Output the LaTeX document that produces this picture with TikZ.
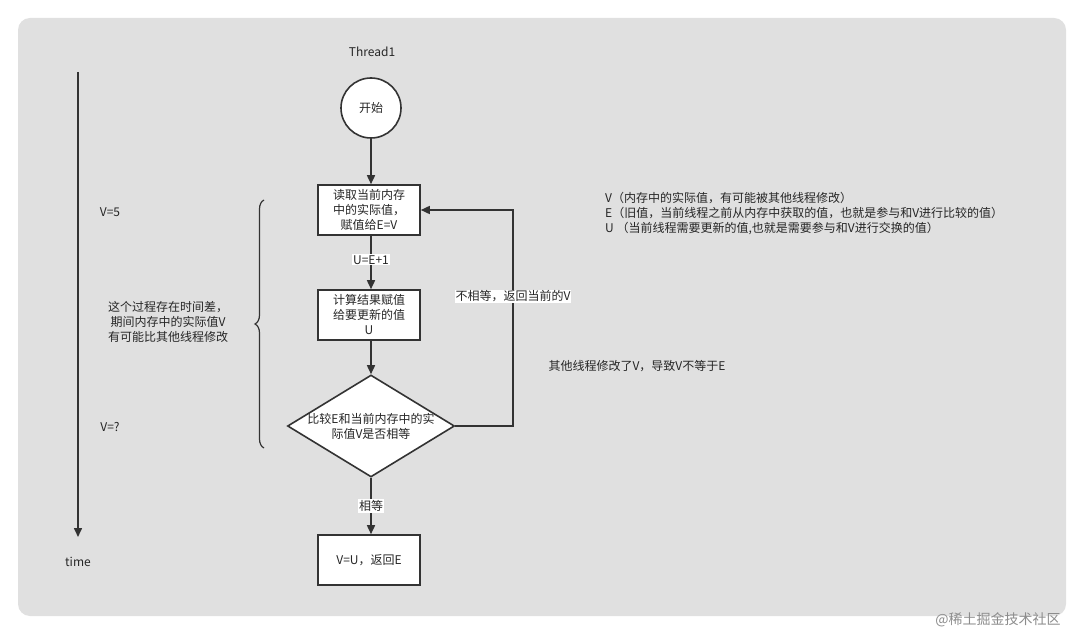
\documentclass[tikz,border=0pt]{standalone}
\usepackage{fontspec}
\setmainfont{Noto Sans CJK SC}
\usetikzlibrary{shapes.geometric,arrows.meta,decorations.pathreplacing}
\begin{document}
\begin{tikzpicture}[x=1pt,y=-1pt,
  every node/.style={font=\fontsize{12}{15}\selectfont, text=black!85},
  proc/.style={draw=black!80, line width=1.6pt, fill=white, minimum width=102pt, minimum height=50pt, inner sep=1pt, align=center},
  conn/.style={draw=black!80, line width=1.6pt, -{Triangle[length=9pt,width=8pt]}},
  lbl/.style={fill=white, inner sep=1pt},
  plain/.style={align=left, inner sep=0pt}]
\useasboundingbox (0,0) rectangle (1084,636);
\fill[white] (0,0) rectangle (1084,636);
\fill[rounded corners=12pt, fill=black!12] (18,18) rectangle (1066,616);
\node (thr) at (372,52) {Thread1};
\node[circle, draw=black!80, line width=1.6pt, fill=white, minimum size=60pt, inner sep=0pt] (start) at (371,108) {开始};
\node[proc] (b1) at (369,210) {读取当前内存\\中的实际值，\\赋值给E=V};
\node[proc] (b2) at (369,315) {计算结果赋值\\给要更新的值\\U};
\node[diamond, draw=black!80, line width=1.6pt, fill=white, inner sep=0pt, minimum width=167pt, minimum height=102pt] (d) at (371,426) {};
\node[align=center, inner sep=0pt] (dt) at (d.center) {比较E和当前内存中的实\\际值V是否相等};
\node[proc] (b3) at (369,560) {V=U，返回E};
\draw[conn] (start) -- (start|-b1.north);
\draw[conn] (b1.south-|start) -- node[lbl, pos=0.45] (l1) {U=E+1} (b2.north-|start);
\draw[conn] (b2.south-|start) -- (d.north);
\draw[conn] (d.south) -- node[lbl, pos=0.5] (l2) {相等} (b3.north-|start);
\coordinate (c1) at (513,426);
\coordinate (c2) at (513,210);
\draw[conn] (d.east) -- (c1) -- node[lbl, pos=0.6] (l3) {不相等，返回当前的V} (c2) -- (b1.east);
\node (oth) at (637,366) {其他线程修改了V，导致V不等于E};
\node[plain, anchor=north west] (leg) at (605,192) {V（内存中的实际值，有可能被其他线程修改）\\E（旧值，当前线程之前从内存中获取的值，也就是参与和V进行比较的值）\\U （当前线程需要更新的值,也就是需要参与和V进行交换的值）};
\coordinate (t0) at (78,72);
\coordinate (t1) at (78,537);
\draw[conn] (t0) -- (t1);
\node (time) at (78,562) {time};
\node (v5) at (110,212) {V=5};
\node (vq) at (110,427) {V=?};
\coordinate (br0) at (264,448);
\coordinate (br1) at (264,200);
\draw[black!80, line width=1.2pt, decorate, decoration={brace, amplitude=9pt}] (br0) -- (br1);
\node[align=center] (note) at (168,322) {这个过程存在时间差，\\期间内存中的实际值V\\有可能比其他线程修改};
\node[text=black!45, font=\fontsize{14}{16}\selectfont] (wm) at (998,620) {@稀土掘金技术社区};
\end{tikzpicture}
\end{document}
